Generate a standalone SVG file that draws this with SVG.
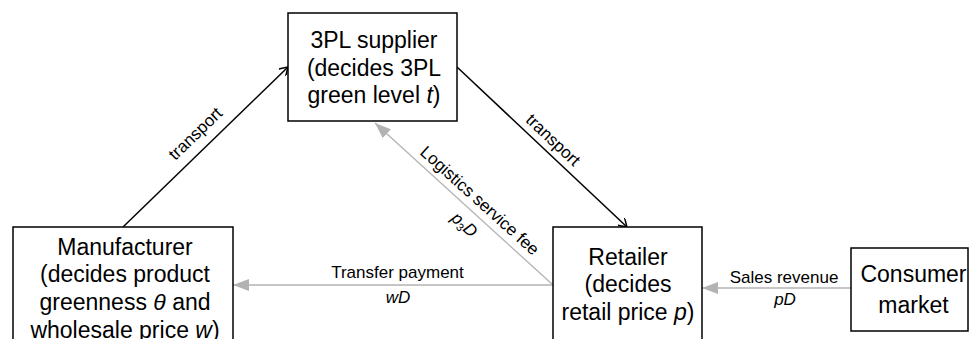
<svg xmlns="http://www.w3.org/2000/svg" width="976" height="339" viewBox="0 0 976 339">
<defs>
<style>
.box{fill:#fff;stroke:#000;stroke-width:1.5}
.nt{font-family:"Liberation Sans",Arial,sans-serif;font-size:23px;fill:#000;text-anchor:middle}
.et{font-family:"Liberation Sans",Arial,sans-serif;font-size:17px;fill:#000;text-anchor:middle}
.blk{stroke:#000;stroke-width:1.5;fill:none}
.gry{stroke:#b3b3b3;stroke-width:1.3;fill:none}
</style>
<marker id="openArrow" viewBox="0 0 10 10" refX="10" refY="5" markerWidth="10" markerHeight="10" markerUnits="userSpaceOnUse" orient="auto">
<path d="M2,0 L10,5 L2,10" fill="none" stroke="#000" stroke-width="1.5"/>
</marker>
<marker id="grayArrow" viewBox="0 0 16 12" refX="16" refY="6" markerWidth="16" markerHeight="12" markerUnits="userSpaceOnUse" orient="auto">
<path d="M0,0 L16,6 L0,12 Z" fill="#b3b3b3"/>
</marker>
</defs>
<rect width="976" height="339" fill="#fff"/>
<g id="connectors">
<line class="blk" x1="123" y1="227" x2="288" y2="67" marker-end="url(#openArrow)"/>
<line class="blk" x1="457" y1="67" x2="627" y2="227" marker-end="url(#openArrow)"/>
<line class="gry" x1="553" y1="285" x2="375" y2="123" marker-end="url(#grayArrow)"/>
<line class="gry" x1="553" y1="285" x2="233" y2="285" marker-end="url(#grayArrow)"/>
<line class="gry" x1="851" y1="288" x2="702" y2="288" marker-end="url(#grayArrow)"/>
<text class="et" x="199.3" y="137.7" transform="rotate(-44 199.3 137.7)">transport</text>
<text class="et" x="549.2" y="144.1" transform="rotate(43.3 549.2 144.1)">transport</text>
<text class="et" x="475.9" y="204.8" transform="rotate(42.1 475.9 204.8)">Logistics service fee</text>
<text class="et" x="460.7" y="228.8" transform="rotate(42.1 460.7 228.8)"><tspan font-style="italic">p</tspan><tspan font-size="11" dy="3">3</tspan><tspan font-style="italic" dy="-3">D</tspan></text>
<text class="et" x="397.5" y="278">Transfer payment</text>
<text class="et" x="398" y="303" font-style="italic">wD</text>
<text class="et" x="784" y="283">Sales revenue</text>
<text class="et" x="785" y="305" font-style="italic">pD</text>
</g>
<g id="supplier">
<rect class="box" x="288" y="13" width="169" height="108"/>
<text class="nt" x="374" y="48">3PL supplier</text>
<text class="nt" x="374" y="76">(decides 3PL</text>
<text class="nt" x="374" y="103">green level <tspan font-style="italic">t</tspan>)</text>
</g>
<g id="manufacturer">
<rect class="box" x="13" y="227" width="220" height="130"/>
<text class="nt" x="125" y="255">Manufacturer</text>
<text class="nt" x="125" y="282">(decides product</text>
<text class="nt" x="125" y="310">greenness <tspan font-style="italic">θ</tspan> and</text>
<text class="nt" x="125" y="338">wholesale price <tspan font-style="italic">w</tspan>)</text>
</g>
<g id="retailer">
<rect class="box" x="553" y="227" width="149" height="130"/>
<text class="nt" x="628" y="265">Retailer</text>
<text class="nt" x="628" y="292">(decides</text>
<text class="nt" x="628" y="320">retail price <tspan font-style="italic">p</tspan>)</text>
</g>
<g id="consumer">
<rect class="box" x="851" y="248" width="117" height="83"/>
<text class="nt" x="913.5" y="282">Consumer</text>
<text class="nt" x="913.5" y="313">market</text>
</g>
</svg>
